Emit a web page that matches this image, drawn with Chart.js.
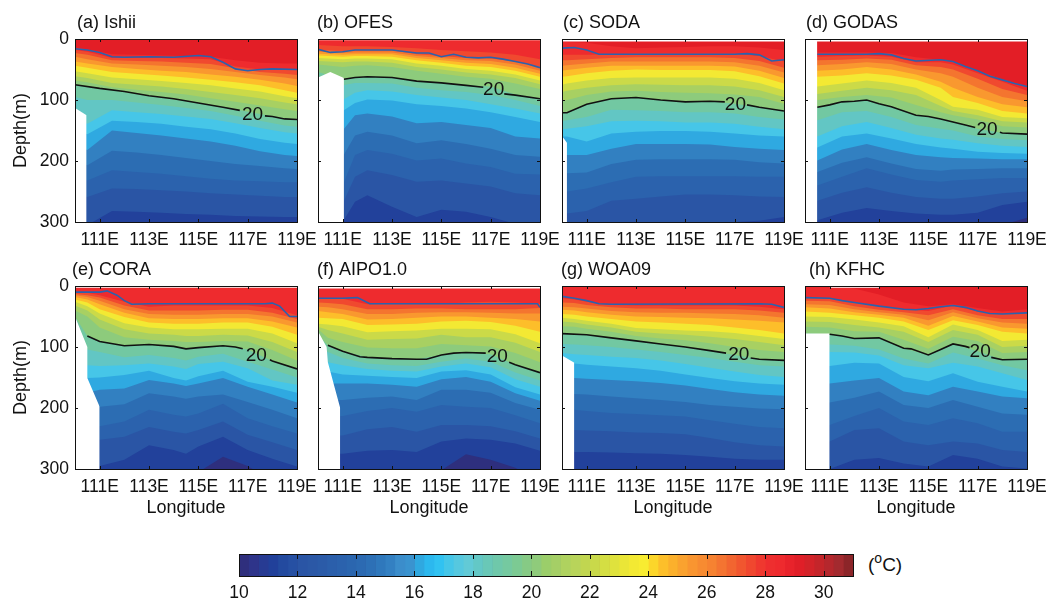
<!DOCTYPE html>
<html>
<head>
<meta charset="utf-8">
<title>Temperature sections</title>
<script src="https://cdn.jsdelivr.net/npm/chart.js@4/dist/chart.umd.min.js"></script>
<style>
html,body{margin:0;padding:0;background:#fff;overflow:hidden;width:1050px;height:599px}
canvas{position:absolute}
#unit{position:absolute;left:868px;top:553px;font:19px "Liberation Sans",Arial,sans-serif;color:#111;line-height:24px}
#unit sup{font-size:14px;line-height:0;vertical-align:8px}
</style>
</head>
<body>
<div id="unit">(<sup>o</sup>C)</div>
<script>
// isotherm levels, warmest first. each table row below is the depth (m) of one level
const levels=[29,28,27,26,25,24,23,22,21,20,19,18,17,16,15,14,13,12,11];
const baseColor='#E31E26'; // warmer than 29
const levelColors=['#EE2B2E','#F0492F','#F4752F','#F9982F','#FDBE2A','#F3E933','#CBDA48','#A8D062','#8DCB7C','#72C8A2','#62C6C4','#46C6E8','#2FA9E1','#3280C1','#2C6DB3','#2B62AD','#2A55A5','#22419B','#2E2F7E'];
const xTicks=[111,113,115,117,119];
const yTicks=[0,100,200,300];
const cbarTicks=[10,12,14,16,18,20,22,24,26,28,30];

// ---- (a) Ishii
const lonsA=[110,110.5,111.5,112.5,113.5,114.5,115.5,116.5,117.5,118.5,119];
const depthA=[
[14,17,25,26,27,28,29,35,39,40,40],
[18,21,31,31,31,32,33,45,50,49,50],
[23,26,35,36,37,39,41,48,54,57,59],
[29,33,40,42,44,46,49,54,59,63,66],
[37,40,46,49,52,54,58,62,67,73,77],
[44,47,54,57,60,63,67,71,76,84,88],
[53,56,63,66,69,72,76,81,86,94,97],
[61,64,72,75,78,82,87,92,97,104,107],
[68,71,79,83,87,91,97,103,109,115,118],
[75,78,84,90,96,102,108,115,123,130,132],
[95,100,100,104,108,113,118,126,134,142,144],
[130,139,117,120,123,127,131,138,146,153,155],
[150,156,134,136,139,144,148,155,164,170,172],
[175,182,150,154,158,163,168,175,184,190,192],
[200,207,183,186,190,195,200,205,208,212,213],
[228,232,215,218,221,225,229,232,233,235,235],
[255,259,245,246,248,250,253,255,257,259,259],
[310,305,282,283,285,287,288,290,291,292,292]];
const mldLonA=[110,110.5,111,111.5,112,113,114,115,115.5,116,116.5,117,117.5,118,119];
const mldA=[16,18,22,29,30,29,30,27,29,38,49,52,50,49,50];
const iso20LonA=[110,111,112,113,114,115,116,116.68,117.2,117.7,118,118.5,119];
const iso20A=[75,81,86,93,98,105,112,117,null,126,127,131,132];
const landLonA=[110,110.47,110.47];
const landDepA=[113,125,300];
const topLonA=[110,119];
const topDepA=[0,0];

// ---- (b) OFES
const lonsB=[110,111,111.5,112,113,114,115,116,117,118,119];
const depthB=[
[0,0,0,0,0,0,0,0,0,0,0],
[10,12,12,12,13,15,18,20,22,26,33],
[18,20,19,19,19,25,28,31,32,37,46],
[21,23,22,22,22,28,31,35,36,42,52],
[24,26,25,25,25,31,35,39,41,47,57],
[27,29,28,28,29,35,39,44,46,52,62],
[31,33,32,32,33,40,44,49,52,58,68],
[36,38,37,37,39,46,50,55,58,64,74],
[42,46,44,43,46,52,57,62,65,73,82],
[54,66,63,62,63,69,72,76,78,91,98],
[70,76,72,72,73,80,84,87,92,100,110],
[80,100,88,84,86,92,96,100,107,114,122],
[95,118,105,99,101,107,110,114,120,128,136],
[150,150,125,122,127,138,136,141,146,160,163],
[193,193,158,152,158,171,166,172,180,190,193],
[240,240,190,182,188,199,196,204,210,221,222],
[270,270,226,215,223,234,232,237,242,253,256],
[300,300,267,256,275,292,280,283,292,303,306]];
const mldLonB=[110,110.5,111,111.5,112,113,114,114.5,115,115.5,116,116.5,117,117.5,118,118.5,119];
const mldB=[17,22,21,18,18,18,23,23,29,25,30,31,30,33,37,41,47];
const iso20LonB=[111.05,111.5,112,113,114,115,116,116.7,117.1,117.55,118,119];
const iso20B=[66,63,62,63,69,72,76,79,null,90,92,98];
const landLonB=[110,110.5,111.05,111.05];
const landDepB=[63,54,64,300];
const topLonB=[110,119];
const topDepB=[2,2];

// ---- (c) SODA
const lonsC=[110,110.2,111,112,113,114,115,116,117,118,119];
const depthC=[
[4,5,6,12,15,14,13,12,12,14,18],
[26,26,26,25,24,24,24,24,24,28,37],
[35,35,33,31,30,30,30,30,31,36,47],
[44,43,40,37,37,37,37,37,38,44,55],
[52,51,47,44,44,44,44,44,45,52,64],
[62,61,56,52,50,51,51,51,53,61,73],
[75,73,68,64,63,63,63,63,65,72,84],
[87,85,80,76,74,75,76,76,78,84,95],
[102,100,92,86,85,87,88,89,91,95,106],
[121,120,107,98,96,100,103,102,106,112,118],
[135,133,128,116,117,118,120,120,122,128,132],
[148,147,143,135,134,135,137,137,139,144,148],
[160,160,168,155,152,151,151,152,155,158,160],
[185,190,190,180,172,172,172,173,177,180,182],
[220,220,219,205,198,197,197,197,198,202,204],
[250,250,245,235,226,225,225,225,225,226,226],
[286,286,282,265,262,258,255,255,256,258,259],
[330,330,320,310,305,302,300,300,300,298,292]];
const mldLonC=[110,110.5,111,111.5,112,113,114,115,116,117,117.5,118,118.5,119];
const mldC=[15,14,18,25,25,25,25,25,25,25,24,26,36,34];
const iso20LonC=[110,110.2,111,112,113,114,115,116,116.6,117,117.5,118,119];
const iso20C=[121,121,107,98,96,100,103,102,103,null,108,112,118];
const landLonC=[110,110.2,110.2];
const landDepC=[159,170,300];
const topLonC=[110,119];
const topDepC=[4,4];

// ---- (d) GODAS
const lonsD=[110,110.5,111.5,112.5,113.5,114.5,115.5,116,117,118,119];
const depthD=[
[22,22,22,22,23,30,34,37,52,66,78],
[29,29,28,27,29,38,38,42,56,70,85],
[35,35,34,32,34,43,46,50,65,82,92],
[43,43,41,38,41,50,56,62,80,95,102],
[52,52,50,46,50,58,70,80,95,107,112],
[62,62,60,56,60,67,80,95,105,118,122],
[78,78,73,68,72,80,100,111,116,128,130],
[90,90,85,80,84,92,110,118,125,135,137],
[100,100,95,92,96,108,120,125,132,143,145],
[112,112,103,100,111,125,131,136,147,154,156],
[133,133,120,118,128,141,147,150,160,164,166],
[160,160,143,136,146,157,163,165,171,175,177],
[178,178,160,155,163,172,178,180,185,187,188],
[199,199,181,172,182,190,194,195,196,197,197],
[218,218,203,194,204,213,216,214,213,212,212],
[240,240,226,212,222,231,234,232,230,228,228],
[265,265,252,243,252,259,262,262,258,253,250],
[297,297,285,277,282,286,288,288,285,272,267],
[330,330,330,330,330,330,330,330,325,305,293]];
const mldLonD=[110.5,112.5,113,113.5,114,114.5,115.5,116,116.5,117,117.5,118,118.5,119];
const mldD=[25,25,24,26,32,36,34,37,45,52,61,67,73,78];
const iso20LonD=[110.5,111,111.5,112,112.5,113,113.5,114.5,115,115.5,116,116.5,116.9,117.4,117.9,118,119];
const iso20D=[112,108,103,102,100,106,111,125,127,131,136,141,145,null,153,154,156];
const landLonD=[110,110.5,110.5];
const landDepD=[0,0,300];
const topLonD=[110,119];
const topDepD=[4,4];

// ---- (e) CORA
const lonsE=[110,110.5,111,112,113,114,114.5,115,116,117,118,119];
const depthE=[
[0,0,0,0,0,0,0,0,0,0,0,0],
[10,11,15,26,34,32,32,32,32,32,36,48],
[13,15,19,32,40,40,40,40,39,39,44,54],
[15,18,24,38,46,47,47,47,46,46,50,60],
[18,22,30,44,53,54,54,54,53,53,58,68],
[22,27,38,51,60,62,62,62,60,60,67,80],
[26,33,45,61,68,71,71,71,70,70,78,94],
[32,40,55,71,78,80,82,82,80,81,92,108],
[40,50,68,84,88,90,92,92,90,91,105,122],
[50,82,91,98,96,99,103,101,98,104,123,136],
[100,104,108,117,113,118,122,116,111,124,137,150],
[125,130,131,130,127,132,136,128,124,135,155,162],
[145,151,150,146,139,151,155,148,139,157,165,175],
[170,175,170,168,154,160,164,160,151,165,178,191],
[198,198,198,194,176,181,185,181,178,190,203,217],
[235,230,230,222,203,211,214,209,193,217,230,242],
[260,252,252,247,231,239,242,236,222,244,256,269],
[300,295,295,285,261,269,275,263,247,269,283,296],
[340,340,340,340,340,340,330,305,280,295,320,340]];
const mldLonE=[110,110.5,111,111.3,111.7,112,112.3,113,117.7,118,118.3,118.7,119];
const mldE=[10,10,10,8,15,24,30,29,29,28,33,50,50];
const iso20LonE=[110.5,111,112,113,114,114.5,115,116,116.5,116.8,117.35,117.9,118,119];
const iso20E=[82,91,98,96,99,103,101,98,100,103,null,121,123,136];
const landLonE=[110,110.5,110.5,111,111];
const landDepE=[50,100,151,198,300];
const topLonE=[110,119];
const topDepE=[3,3];

// ---- (f) AIPO1.0
const lonsF=[110,110.4,111,112,113,114,115,116,117,118,119];
const depthF=[
[0,0,0,0,0,0,0,0,0,0,0],
[20,20,21,30,29,29,29,27,26,27,29],
[27,28,30,38,38,37,37,38,38,38,36],
[34,35,38,46,46,44,43,43,44,45,45],
[41,43,46,55,54,52,50,50,52,54,58],
[52,53,54,64,63,62,58,57,59,65,75],
[62,63,66,76,74,73,70,70,71,79,94],
[67,72,78,88,87,86,80,84,84,93,108],
[71,85,92,101,102,102,95,97,99,110,125],
[80,97,107,117,119,120,113,109,112,129,142],
[100,108,118,127,130,131,124,119,124,142,155],
[120,125,130,136,139,140,132,127,133,153,165],
[135,140,145,147,149,151,140,138,145,166,178],
[150,160,160,160,162,165,153,149,157,176,188],
[185,187,187,183,181,187,170,170,175,192,203],
[215,214,213,205,200,206,195,198,200,212,225],
[245,245,245,235,231,239,228,228,230,238,250],
[275,275,275,270,269,272,255,250,252,258,270],
[340,340,340,340,340,340,302,276,285,298,320]];
const mldLonF=[110,111,111.6,111.9,112.1,118.7,118.9,119];
const mldF=[20,20,19,25,29,29,29,35];
const iso20LonF=[110.4,111,111.7,112,113,114,114.4,115,115.5,116,116.8,117.3,117.75,118,119];
const iso20F=[97,107,116,117,119,120,120,113,110,109,110,null,125,129,142];
const landLonF=[110,110.35,110.4,110.7,110.9,110.9];
const landDepF=[74,100,125,170,200,300];
const topLonF=[110,119];
const topDepF=[4,4];

// ---- (g) WOA09
const lonsG=[110,110.5,111,112,113,114,115,116,117,118,119];
const depthG=[
[0,0,0,0,0,0,0,0,0,0,0],
[20,22,26,31,32,32,32,32,32,34,38],
[27,28,31,35,37,37,38,38,38,40,44],
[34,35,37,41,43,44,44,45,46,48,52],
[39,40,43,47,50,51,52,53,55,57,60],
[46,47,50,54,58,60,62,64,68,72,78],
[52,54,57,62,69,71,73,74,77,82,87],
[58,60,63,68,75,78,80,83,87,92,97],
[66,67,70,75,82,86,89,94,100,105,108],
[78,79,80,85,90,95,100,106,113,120,122],
[95,96,97,100,104,108,113,118,124,130,132],
[110,112,113,116,118,122,128,134,140,146,149],
[125,127,129,132,135,139,145,151,156,160,162],
[150,151,152,154,156,159,163,169,174,178,180],
[176,177,178,181,184,187,190,195,198,201,202],
[203,203,205,208,210,212,214,220,226,231,233],
[236,236,237,238,240,241,243,249,256,261,263],
[272,272,272,273,274,275,277,280,283,285,285]];
const mldLonG=[110,110.5,111,111.5,112,118,118.5,119];
const mldG=[17,20,24,29,30,29,30,35];
const iso20LonG=[110,111,112,113,114,115,116,116.65,117.15,117.65,118,119];
const iso20G=[78,80,85,90,95,100,106,110,null,118,120,122];
const landLonG=[110,110.5,110.5];
const landDepG=[114,126,300];
const topLonG=[110,119];
const topDepG=[0,0];

// ---- (h) KFHC
const lonsH=[110,111,112,113,114,115,116,117,118,119];
const depthH=[
[0,0,4,14,27,33,30,36,42,38],
[19,20,27,33,38,41,32,42,46,44],
[24,25,33,39,43,48,38,48,54,54],
[30,31,38,43,47,56,43,53,60,62],
[35,37,43,47,52,65,49,58,68,70],
[42,44,48,52,58,72,56,64,75,78],
[50,51,55,60,66,84,63,72,90,88],
[58,59,64,68,75,92,72,80,100,98],
[67,68,74,75,88,103,83,90,110,108],
[78,79,86,85,102,113,95,107,121,120],
[96,96,98,104,119,127,109,119,130,138],
[108,108,109,114,130,135,126,132,143,154],
[131,131,126,127,149,156,143,157,165,173],
[160,160,155,151,173,179,165,173,181,184],
[191,191,183,173,195,200,187,198,209,211],
[228,228,213,200,222,228,217,225,239,239],
[255,255,236,233,255,261,255,258,269,272],
[300,300,285,282,291,296,277,283,296,299]];
const mldLonH=[110,111,111.5,112,113,114,114.5,115,115.5,116,116.5,117,117.5,118,119];
const mldH=[19,20,24,27,33,38,39,37,34,32,35,41,45,46,44];
const iso20LonH=[111,111.5,112,113,114,114.3,115,115.5,116,116.5,116.67,117.1,117.55,118,119];
const iso20H=[79,82,86,85,102,103,113,104,95,99,101,null,117,121,120];
const landLonH=[110,111,111];
const landDepH=[78,78,300];
const topLonH=[111,113];
const topDepH=[3,3];

// colour bar
const cbarEdges=[10,10.33,10.67,11,11.33,11.67,12,12.33,12.67,13,13.33,13.67,14,14.33,14.67,15,15.33,15.67,16,16.33,16.67,17,17.33,17.67,18,18.33,18.67,19,19.33,19.67,20,20.33,20.67,21,21.33,21.67,22,22.33,22.67,23,23.33,23.67,24,24.33,24.67,25,25.33,25.67,26,26.33,26.67,27,27.33,27.67,28,28.33,28.67,29,29.33,29.67,30,30.33,30.67,31];
const cbarColors=['#2F2F7D','#2E348A','#273B93','#21409A','#234A9F','#2650A3','#2A55A5','#2B58A6','#2B5BA8','#2B5FAB','#2B62AD','#2B66AF','#2C6AB2','#2D70B6','#2F78BC','#3380C2','#3B8DCB','#3A93CF','#2FA8E0','#2CB8EE','#31C2F1','#45C6E8','#56C8DF','#62CAD6','#63C8C6','#69C8B7','#6FC8AA','#75C9A0','#7CCA93','#86CA85','#8FCB7B','#9BCE6A','#A5CF66','#AFD25F','#B8D45A','#C1D650','#C9D94A','#D4DE43','#DFE23D','#EAE637','#F3E933','#F8EC31','#FCD62A','#FDBF2A','#FBB02C','#FAA22F','#F99530','#F78B31','#F68231','#F47431','#F26530','#F1562F','#F0472F','#EF382F','#EE2E2F','#EE2A2E','#E8232B','#E01F28','#D32329','#C4252A','#B5272D','#A32A2F','#8C2529','#701D20'];

const panels=[
 {title:'(a) Ishii',lons:lonsA,table:depthA,mldLon:mldLonA,mld:mldA,isoLon:iso20LonA,iso:iso20A,landLon:landLonA,landDep:landDepA,topLon:topLonA,topDep:topDepA,tag:[117.2,125],tx:2},
 {title:'(b) OFES',lons:lonsB,table:depthB,mldLon:mldLonB,mld:mldB,isoLon:iso20LonB,iso:iso20B,landLon:landLonB,landDep:landDepB,topLon:topLonB,topDep:topDepB,tag:[117.12,84],tx:-1},
 {title:'(c) SODA',lons:lonsC,table:depthC,mldLon:mldLonC,mld:mldC,isoLon:iso20LonC,iso:iso20C,landLon:landLonC,landDep:landDepC,topLon:topLonC,topDep:topDepC,tag:[117.03,107],tx:1},
 {title:'(d) GODAS',lons:lonsD,table:depthD,mldLon:mldLonD,mld:mldD,isoLon:iso20LonD,iso:iso20D,landLon:landLonD,landDep:landDepD,topLon:topLonD,topDep:topDepD,tag:[117.38,148],tx:1},
 {title:'(e) CORA',lons:lonsE,table:depthE,mldLon:mldLonE,mld:mldE,isoLon:iso20LonE,iso:iso20E,landLon:landLonE,landDep:landDepE,topLon:topLonE,topDep:topDepE,tag:[117.35,114],tx:-3},
 {title:'(f) AIPO1.0',lons:lonsF,table:depthF,mldLon:mldLonF,mld:mldF,isoLon:iso20LonF,iso:iso20F,landLon:landLonF,landDep:landDepF,topLon:topLonF,topDep:topDepF,tag:[117.27,116],tx:-1},
 {title:'(g) WOA09',lons:lonsG,table:depthG,mldLon:mldLonG,mld:mldG,isoLon:iso20LonG,iso:iso20G,landLon:landLonG,landDep:landDepG,topLon:topLonG,topDep:topDepG,tag:[117.17,113],tx:-1},
 {title:'(h) KFHC',lons:lonsH,table:depthH,mldLon:mldLonH,mld:mldH,isoLon:iso20LonH,iso:iso20H,landLon:landLonH,landDep:landDepH,topLon:topLonH,topDep:topDepH,tag:[117.1,108],tx:4},
];

Chart.defaults.font.family='"Liberation Sans",Arial,sans-serif';
Chart.defaults.color='#111';
Chart.defaults.animation=false;

const colLeft=[75,318,562,805];
const rowTop=[39,286];
const plotW=222,plotH=183;
const padLeft=70,padTop=30,padRight=32; // right pad wider than half of the "119E" label

const pts=(xs,ys)=>xs.map((x,i)=>({x,y:ys[i]}));
const fillDs=(xs,ys,c,target)=>({data:pts(xs,ys),borderWidth:0,pointRadius:0,backgroundColor:c,fill:{value:target}});

// inward tick marks on all four sides, the frame, panel title and the "20" tag
const framePlugin={id:'frame',afterDatasetsDraw(ch,args,o){
  const {ctx,chartArea:a,scales:{x,y}}=ch;
  ctx.save();
  ctx.strokeStyle='#111';ctx.lineWidth=1;
  ctx.beginPath();
  x.ticks.forEach(t=>{const p=Math.round(x.getPixelForValue(t.value))+.5;ctx.moveTo(p,a.top);ctx.lineTo(p,a.top+o.len);ctx.moveTo(p,a.bottom);ctx.lineTo(p,a.bottom-o.len);});
  if(y.type==='linear')y.ticks.forEach(t=>{const p=Math.round(y.getPixelForValue(t.value))+.5;ctx.moveTo(a.left,p);ctx.lineTo(a.left+o.len,p);ctx.moveTo(a.right,p);ctx.lineTo(a.right-o.len,p);});
  ctx.stroke();
  ctx.strokeRect(Math.round(a.left)+.5,Math.round(a.top)+.5,Math.round(a.width),Math.round(a.height));
  ctx.fillStyle='#111';
  if(o.tag){
    ctx.font='19px "Liberation Sans",Arial,sans-serif';ctx.textAlign='center';ctx.textBaseline='middle';
    ctx.fillText('20',x.getPixelForValue(o.tag[0]),y.getPixelForValue(o.tag[1]));
  }
  if(o.title){
    ctx.font='18px "Liberation Sans",Arial,sans-serif';ctx.textAlign='left';ctx.textBaseline='middle';
    ctx.fillText(o.title,a.left+o.tx,a.top-16);
  }
  ctx.restore();
}};

panels.forEach((p,i)=>{
  const col=i%4,row=i<4?0:1;
  const bottomH=row?50:25;
  const cv=document.createElement('canvas');
  cv.width=padLeft+plotW+padRight;cv.height=padTop+plotH+bottomH;
  cv.style.left=(colLeft[col]-padLeft)+'px';cv.style.top=(rowTop[row]-padTop)+'px';
  document.body.appendChild(cv);

  // first dataset ends up on top, so coldest levels come right after the overlays
  const bands=p.table.map((r,k)=>fillDs(p.lons,r,levelColors[k],300)).reverse();
  const datasets=[
    {data:pts(p.isoLon,p.iso),borderColor:'#111',borderWidth:1.6,pointRadius:0,fill:false},
    {data:pts(p.mldLon,p.mld),borderColor:'#2B62AD',borderWidth:1.6,pointRadius:0,fill:false},
    fillDs(p.topLon,p.topDep,'#fff',0),
    fillDs(p.landLon,p.landDep,'#fff',300),
    ...bands,
    fillDs(p.lons,p.lons.map(()=>0),baseColor,300),
  ];

  new Chart(cv,{
    type:'line',
    data:{datasets},
    options:{
      responsive:false,events:[],parsing:true,
      layout:{padding:{top:padTop,right:padRight,left:0,bottom:0}},
      plugins:{legend:{display:false},tooltip:{enabled:false},frame:{len:3,title:p.title,tx:p.tx,tag:p.tag}},
      scales:{
        x:{type:'linear',min:110,max:119,border:{display:false},grid:{display:false,drawTicks:false},
          afterBuildTicks(s){s.ticks=xTicks.map(v=>({value:v}));},
          afterFit(s){s.height=bottomH;},
          ticks:{autoSkip:false,maxRotation:0,padding:8,font:{size:17.5},callback:v=>v+'E'},
          title:{display:!!row,text:'Longitude',font:{size:18},padding:{top:0,bottom:0}}},
        y:{type:'linear',reverse:true,min:0,max:300,border:{display:false},grid:{display:false,drawTicks:false},
          afterBuildTicks(s){s.ticks=yTicks.map(v=>({value:v}));},
          afterFit(s){s.width=padLeft;},
          ticks:{display:col===0,padding:6,font:{size:17.5}},
          title:{display:col===0,text:'Depth(m)',font:{size:18},padding:{top:5,bottom:0}}}
      }
    },
    plugins:[framePlugin]
  });
});

// colour bar
const cb=document.createElement('canvas');
cb.width=20+614+30;cb.height=5+22+30;
cb.style.left='219px';cb.style.top='549px';
document.body.appendChild(cb);
new Chart(cb,{
  type:'bar',
  data:{labels:['T'],datasets:cbarColors.map((c,k)=>({data:[[cbarEdges[k],cbarEdges[k+1]]],backgroundColor:c,borderWidth:0,grouped:false,barPercentage:1,categoryPercentage:1}))},
  options:{
    indexAxis:'y',responsive:false,events:[],
    layout:{padding:{top:5,left:20,right:30,bottom:0}},
    plugins:{legend:{display:false},tooltip:{enabled:false},frame:{len:5}},
    scales:{
      x:{type:'linear',min:10,max:31,border:{display:false},grid:{display:false,drawTicks:false},
        afterBuildTicks(s){s.ticks=cbarTicks.map(v=>({value:v}));},
        afterFit(s){s.height=30;},
        ticks:{autoSkip:false,maxRotation:0,padding:7,font:{size:17.5}}},
      y:{display:false}
    }
  },
  plugins:[framePlugin]
});
</script>
</body>
</html>
